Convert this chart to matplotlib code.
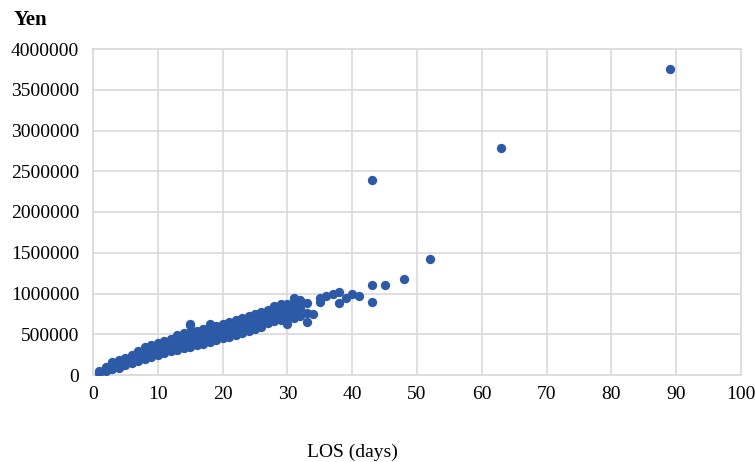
import matplotlib
matplotlib.use("Agg")
import matplotlib.pyplot as plt

# LOS (days) -> list of costs (Yen)
los_days = list(range(1, 34)) + [34, 35, 36, 37, 38, 39, 40, 41, 43, 45, 48, 52, 63, 89]
costs_by_day = [
    [30000, 50000],
    [50000, 70000, 100000],
    [70000, 100000, 130000, 160000],
    [90000, 120000, 150000, 180000],
    [120000, 150000, 180000, 210000],
    [150000, 180000, 210000, 240000],
    [170000, 200000, 235000, 265000, 300000],
    [195000, 225000, 260000, 290000, 325000, 345000],
    [220000, 250000, 280000, 310000, 340000, 365000],
    [250000, 280000, 310000, 340000, 370000, 390000],
    [270000, 300000, 330000, 360000, 390000, 420000],
    [290000, 320000, 350000, 380000, 410000, 440000],
    [310000, 340000, 370000, 400000, 430000, 465000, 490000],
    [330000, 360000, 390000, 420000, 450000, 480000, 510000],
    [340000, 375000, 410000, 440000, 470000, 500000, 525000, 610000, 630000],
    [365000, 395000, 425000, 455000, 485000, 515000, 545000],
    [385000, 415000, 445000, 475000, 505000, 535000, 560000],
    [410000, 440000, 470000, 500000, 530000, 560000, 585000, 630000],
    [430000, 460000, 490000, 520000, 550000, 580000, 600000],
    [450000, 480000, 510000, 540000, 570000, 600000, 625000],
    [470000, 500000, 530000, 560000, 590000, 620000, 645000],
    [495000, 525000, 555000, 585000, 615000, 645000, 670000],
    [520000, 550000, 580000, 610000, 640000, 670000, 695000],
    [545000, 575000, 605000, 635000, 665000, 695000, 720000],
    [570000, 600000, 630000, 660000, 690000, 720000, 750000],
    [590000, 620000, 650000, 680000, 710000, 740000, 770000],
    [640000, 670000, 700000, 730000, 760000, 795000],
    [665000, 695000, 725000, 760000, 790000, 820000, 845000],
    [675000, 705000, 735000, 765000, 800000, 835000, 870000],
    [630000, 690000, 720000, 760000, 800000, 840000, 875000],
    [700000, 750000, 800000, 850000, 900000, 940000],
    [720000, 820000, 880000, 920000],
    [650000, 760000, 880000],
    [750000],
    [900000, 940000],
    [970000],
    [1000000],
    [880000, 1020000],
    [940000],
    [990000],
    [970000],
    [900000, 1100000, 2390000],
    [1100000],
    [1180000],
    [1420000],
    [2790000],
    [3750000],
]

x_ticks = [0, 10, 20, 30, 40, 50, 60, 70, 80, 90, 100]
y_ticks = [0, 500000, 1000000, 1500000, 2000000, 2500000, 3000000, 3500000, 4000000]

xs, ys = [], []
for d, vals in zip(los_days, costs_by_day):
    for v in vals:
        xs.append(d)
        ys.append(v)

plt.rcParams['font.family'] = ['Liberation Serif', 'DejaVu Serif']

fig = plt.figure(figsize=(7.55, 4.62), dpi=100)
ax = fig.add_axes([93/755, 1-375/462, (741-93)/755, (375-49)/462])

grid_c = '#D9D9D9'
ax.scatter(xs, ys, s=45, color='#2D5AA6', linewidths=0, zorder=3)

ax.set_xlim(0, 100)
ax.set_ylim(0, 4000000)
ax.set_xticks(x_ticks)
ax.set_yticks(y_ticks)
ax.set_xticklabels([str(t) for t in x_ticks], fontsize=14)
ax.set_yticklabels([str(t) for t in y_ticks], fontsize=14)
ax.grid(True, color=grid_c, linewidth=1.2, zorder=0)
ax.set_axisbelow(True)
for s in ax.spines.values():
    s.set_color(grid_c)
    s.set_linewidth(1.2)
ax.tick_params(length=0, colors='black')
ax.tick_params(axis='x', pad=8)
ax.tick_params(axis='y', pad=10)

fig.text(14/755, 1-20/462, 'Yen', fontsize=15, fontweight='bold', va='center', ha='left')
fig.text(352/755, 1-452/462, 'LOS (days)', fontsize=14, va='center', ha='center')

fig.savefig('out.png', dpi=100)
